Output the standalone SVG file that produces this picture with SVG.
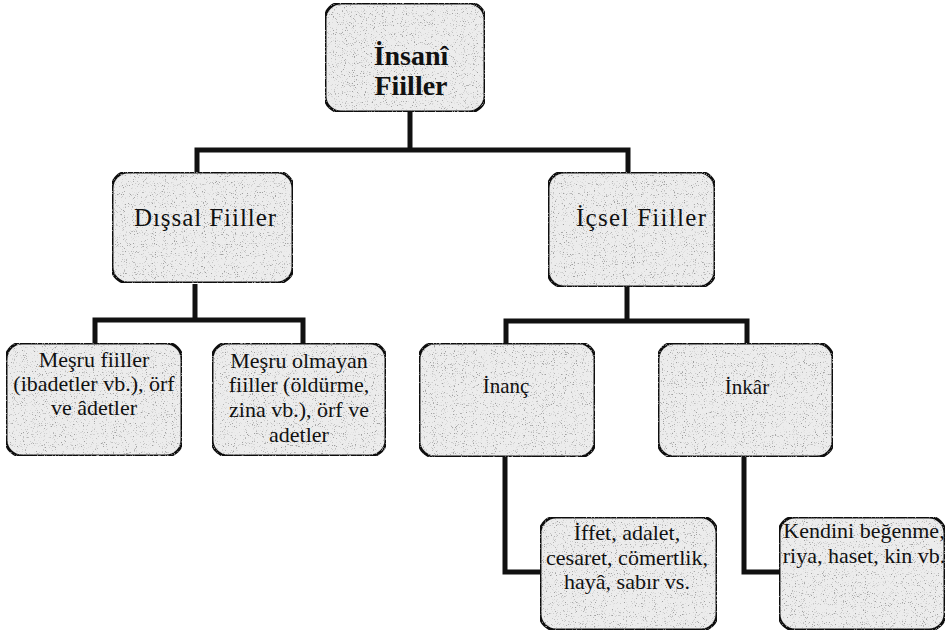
<svg xmlns="http://www.w3.org/2000/svg" width="948" height="633" viewBox="0 0 948 633">
<defs>
<filter id="grain" x="0" y="0" width="100%" height="100%">
<feTurbulence type="fractalNoise" baseFrequency="0.9" numOctaves="2" seed="3" result="n"/>
<feColorMatrix in="n" type="matrix" values="0 0 0 0 0.35  0 0 0 0 0.35  0 0 0 0 0.35  0 0 0 -6 2.35" result="dots"/>
<feComposite in="dots" in2="SourceGraphic" operator="in" result="d2"/>
<feMerge><feMergeNode in="SourceGraphic"/><feMergeNode in="d2"/></feMerge>
</filter>
</defs>
<style>
.box{fill:#ececec;stroke:#111;stroke-width:3;}
.t{font-family:"Liberation Serif","Times New Roman",serif;font-size:22px;fill:#111;text-anchor:middle;}
.b{font-weight:bold;font-size:28px;}
.s{font-size:21px;}
.m{font-size:25px;}
.c{fill:none;stroke:#111;stroke-width:5;stroke-linejoin:miter;}
</style>
<rect width="948" height="633" fill="#ffffff"/>
<g id="connectors">
<polyline class="c" points="410,112 410,150"/>
<polyline class="c" points="197,172 197,150 628,150 628,172"/>
<polyline class="c" points="195,284 195,320"/>
<polyline class="c" points="95,343 95,320 303,320 303,343"/>
<polyline class="c" points="627,287 627,321"/>
<polyline class="c" points="506,343 506,321 747,321 747,343"/>
<polyline class="c" points="505,457 505,572 540,572"/>
<polyline class="c" points="744,457 744,572 779,572"/>
</g>
<g id="root">
<rect class="box" x="325" y="3" width="160" height="109" rx="16" filter="url(#grain)"/>
<text class="t b" x="411" y="65">İnsanî</text>
<text class="t b" x="411" y="95">Fiiller</text>
</g>
<g id="dissal">
<rect class="box" x="112" y="172" width="181" height="111" rx="16" filter="url(#grain)"/>
<text class="t m" x="205" y="226" textLength="142" lengthAdjust="spacing">Dışsal Fiiller</text>
</g>
<g id="icsel">
<rect class="box" x="548" y="172" width="167" height="115" rx="16" filter="url(#grain)"/>
<text class="t m" x="641" y="226" textLength="130" lengthAdjust="spacing">İçsel Fiiller</text>
</g>
<g id="mesru">
<rect class="box" x="6" y="343" width="176" height="113" rx="16" filter="url(#grain)"/>
<text class="t" x="94" y="367">Meşru fiiller</text>
<text class="t" x="94" y="391">(ibadetler vb.), örf</text>
<text class="t" x="94" y="415">ve âdetler</text>
</g>
<g id="mesru-olmayan">
<rect class="box" x="212" y="343" width="174" height="113" rx="16" filter="url(#grain)"/>
<text class="t" x="299" y="368">Meşru olmayan</text>
<text class="t" x="299" y="392">fiiller (öldürme,</text>
<text class="t" x="299" y="417">zina vb.), örf ve</text>
<text class="t" x="299" y="442">adetler</text>
</g>
<g id="inanc">
<rect class="box" x="419" y="343" width="176" height="114" rx="16" filter="url(#grain)"/>
<text class="t s" x="506" y="393">İnanç</text>
</g>
<g id="inkar">
<rect class="box" x="658" y="343" width="175" height="114" rx="16" filter="url(#grain)"/>
<text class="t s" x="747" y="394">İnkâr</text>
</g>
<g id="erdemler">
<rect class="box" x="540" y="517" width="177" height="113" rx="16" filter="url(#grain)"/>
<text class="t" x="627" y="540">İffet, adalet,</text>
<text class="t" x="627" y="565">cesaret, cömertlik,</text>
<text class="t" x="627" y="589">hayâ, sabır vs.</text>
</g>
<g id="kotuhuylar">
<rect class="box" x="779" y="517" width="166" height="113" rx="16" filter="url(#grain)"/>
<text class="t" x="864" y="538">Kendini beğenme,</text>
<text class="t" x="864" y="563">riya, haset, kin vb.</text>
</g>
</svg>
